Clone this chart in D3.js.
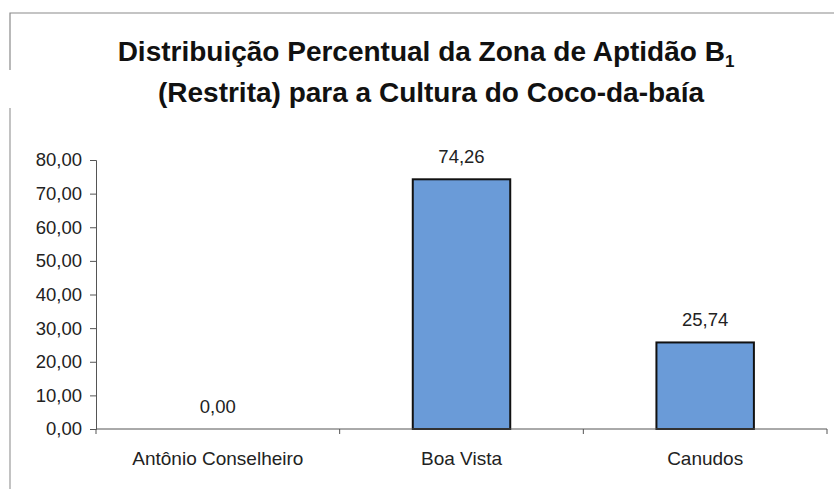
<!DOCTYPE html>
<html>
<head>
<meta charset="utf-8">
<script src="https://cdn.jsdelivr.net/npm/d3@7"></script>
<style>
  body { margin: 0; background: #fff; }
  svg { display: block; font-family: "Liberation Sans", Arial, sans-serif; }
</style>
</head>
<body>
<svg width="834" height="489"></svg>
<script>

let categories = ["Antônio Conselheiro", "Boa Vista", "Canudos"];
let values = [0.00, 74.26, 25.74];
let yTicks = [0, 10, 20, 30, 40, 50, 60, 70, 80];

let svg = d3.select("svg");
let fmt = v => d3.format(".2f")(v).replace(".", ",");

// frame (scanned page border)
svg.append("path")
    .attr("d", "M10,70 V13 H834")
    .attr("fill", "none").attr("stroke", "#8a8a8a").attr("stroke-width", 1.2);
svg.append("line")
    .attr("x1", 10).attr("x2", 10).attr("y1", 108).attr("y2", 489)
    .attr("stroke", "#9a9a9a").attr("stroke-width", 1.2);

// title
let title = svg.append("text")
    .attr("text-anchor", "middle")
    .style("font-weight", "bold").style("font-size", "28px")
    .attr("fill", "#111");
let t1 = title.append("tspan").attr("x", 426).attr("y", 61);
t1.append("tspan").text("Distribuição Percentual da Zona de Aptidão B");
t1.append("tspan").attr("dy", 6).style("font-size", "17px").text("1");
title.append("tspan").attr("x", 431).attr("y", 102)
    .text("(Restrita) para a Cultura do Coco-da-baía");

let x = d3.scaleBand()
    .domain(categories)
    .range([96, 827])
    .paddingInner(0.6)
    .paddingOuter(0.3);

let y = d3.scaleLinear()
    .domain([0, 80])
    .range([429, 160]);

// y axis
let yAxis = svg.append("g")
    .attr("transform", "translate(96,0)")
    .call(d3.axisLeft(y).tickValues(yTicks).tickFormat(fmt).tickSizeOuter(0).tickSize(6).tickPadding(8));
yAxis.select(".domain").attr("stroke", "#555");
yAxis.selectAll(".tick line").attr("stroke", "#555");
yAxis.selectAll("text").style("font-size", "18.5px").attr("fill", "#222").style("font-family", "Liberation Sans, Arial, sans-serif");

// bars
svg.append("g")
    .selectAll("rect").data(values)
    .join("rect")
        .attr("x", (d, i) => x(categories[i]))
        .attr("y", d => y(d))
        .attr("width", x.bandwidth())
        .attr("height", d => y(0) - y(d))
        .attr("fill", "#6a9bd8")
        .attr("stroke", "#111")
        .attr("stroke-width", 2);

// x axis
let step = x.step();
let xAxis = svg.append("g").attr("transform", "translate(0,429)");
xAxis.append("line")
    .attr("x1", 96).attr("x2", 827)
    .attr("stroke", "#555");
xAxis.selectAll(".sep").data(d3.range(categories.length + 1))
    .join("line")
        .attr("class", "sep")
        .attr("x1", i => 96 + i * step).attr("x2", i => 96 + i * step)
        .attr("y1", 0).attr("y2", 5)
        .attr("stroke", "#555");
xAxis.selectAll("text").data(categories)
    .join("text")
        .attr("x", d => x(d) + x.bandwidth() / 2)
        .attr("y", 36)
        .attr("text-anchor", "middle")
        .style("font-size", "19px")
        .attr("fill", "#222")
        .text(d => d);

// value labels
svg.append("g")
    .selectAll("text").data(values)
    .join("text")
        .attr("x", (d, i) => x(categories[i]) + x.bandwidth() / 2)
        .attr("y", d => y(d) - 16)
        .attr("text-anchor", "middle")
        .style("font-size", "18.5px")
        .attr("fill", "#222")
        .text(d => fmt(d));

</script>
</body>
</html>
